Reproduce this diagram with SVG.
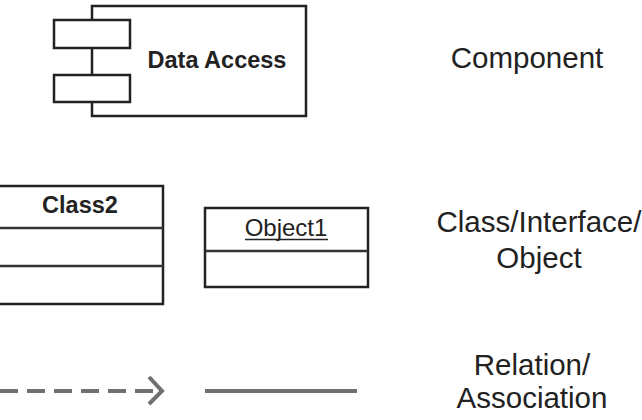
<svg xmlns="http://www.w3.org/2000/svg" width="642" height="420" viewBox="0 0 642 420">
<style>
.box{fill:#fff;stroke:#222;stroke-width:2.5}
.sep{stroke:#333;stroke-width:2.5}
.lbl{font-family:"Liberation Sans",Arial,sans-serif;font-size:29.5px;fill:#222;text-anchor:middle}
.bold{font-family:"Liberation Sans",Arial,sans-serif;font-weight:bold;font-size:23.5px;fill:#222;text-anchor:middle}
.reg{font-family:"Liberation Sans",Arial,sans-serif;font-size:24px;fill:#222;text-anchor:middle}
.conn{fill:none;stroke:#707070;stroke-width:4}
</style>
<rect width="642" height="420" fill="#fff"/>
<g id="component">
<rect class="box" x="92" y="6" width="214" height="110"/>
<rect class="box" x="54" y="20" width="76" height="28"/>
<rect class="box" x="54" y="75" width="76" height="27"/>
<text class="bold" x="217" y="68">Data Access</text>
</g>
<g id="class2">
<rect class="box" x="-2" y="186" width="165" height="118"/>
<line class="sep" x1="0" y1="228" x2="163" y2="228"/>
<line class="sep" x1="0" y1="266" x2="163" y2="266"/>
<text class="bold" x="80" y="213">Class2</text>
</g>
<g id="object1">
<rect class="box" x="205" y="208" width="163" height="79"/>
<line class="sep" x1="205" y1="251" x2="368" y2="251"/>
<text class="reg" x="286" y="236">Object1</text>
<line x1="245" y1="239.5" x2="328" y2="239.5" stroke="#222" stroke-width="1.5"/>
</g>
<g id="labels">
<text class="lbl" x="527" y="68">Component</text>
<text class="lbl" x="539" y="232">Class/Interface/</text>
<text class="lbl" x="539" y="268">Object</text>
<text class="lbl" x="532" y="375">Relation/</text>
<text class="lbl" x="532" y="408">Association</text>
</g>
<g id="connectors">
<line class="conn" x1="0" y1="391" x2="158" y2="391" stroke-dasharray="18,9"/>
<polyline class="conn" points="149,377 162,391 149,404"/>
<line class="conn" x1="205" y1="391" x2="357" y2="391"/>
</g>
</svg>
